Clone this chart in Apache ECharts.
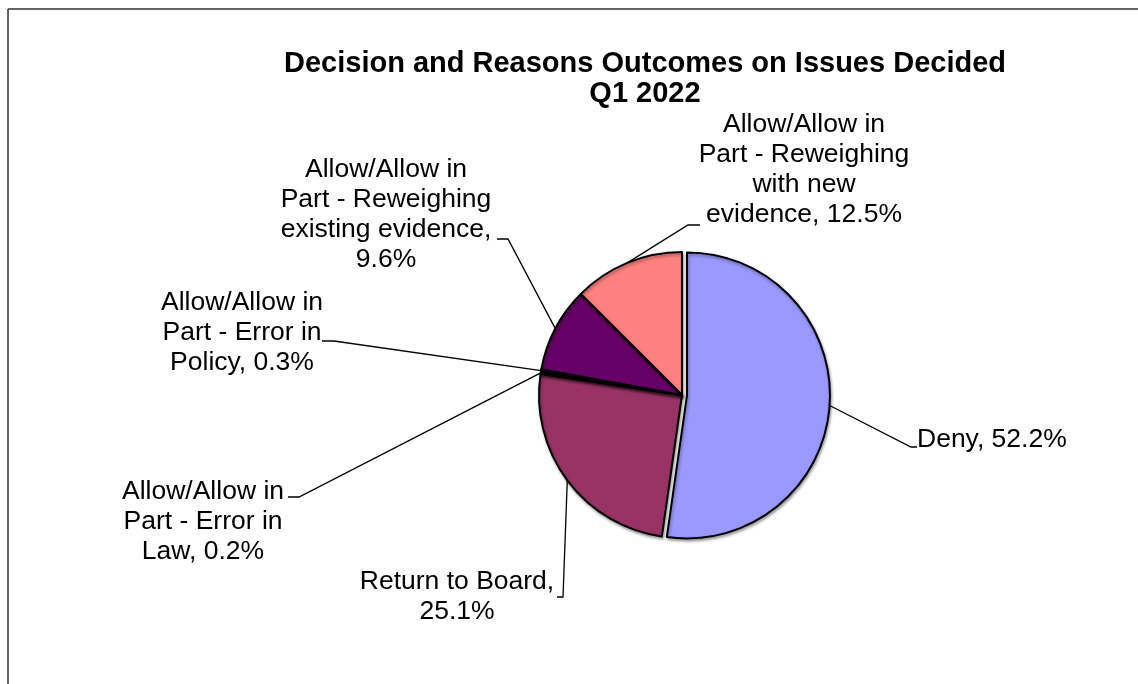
<!DOCTYPE html>
<html>
<head>
<meta charset="utf-8">
<script src="https://cdn.jsdelivr.net/npm/echarts@6/dist/echarts.min.js"></script>
<style>
  html, body { margin: 0; padding: 0; background: #fff; }
  #main { width: 1138px; height: 684px; }
</style>
</head>
<body>
<div id="main"></div>
<script>
var categories = [
    'Deny',
    'Return to Board',
    'Allow/Allow in Part - Error in Law',
    'Allow/Allow in Part - Error in Policy',
    'Allow/Allow in Part - Reweighing existing evidence',
    'Allow/Allow in Part - Reweighing with new evidence'
];
var values = [52.2, 25.1, 0.2, 0.3, 9.6, 12.5];
// wrapped names as shown in the labels
var wrappedNames = [
    'Deny',
    'Return to Board',
    'Allow/Allow in\nPart - Error in\nLaw',
    'Allow/Allow in\nPart - Error in\nPolicy',
    'Allow/Allow in\nPart - Reweighing\nexisting evidence',
    'Allow/Allow in\nPart - Reweighing\nwith new\nevidence'
];
var valueSep = [', ', ',\n', ', ', ', ', ',\n', ', '];
var colors = ['#9999FF', '#993366', '#000000', '#000000', '#660066', '#FF8080'];
var exploded = [true, false, false, false, false, false];

// label placement: text anchor x, top y, alignment, leader line end and bend
var labelPos = [
    {x: 917, y: 425, align: 'left',   end: [917, 447], bend: [911, 447]},
    {x: 457, y: 567, align: 'center', end: [557, 597], bend: [563, 597]},
    {x: 203, y: 477, align: 'center', end: [288, 497], bend: [299, 497]},
    {x: 242, y: 288, align: 'center', end: [322, 341], bend: [334, 341]},
    {x: 386, y: 155, align: 'center', end: [497, 239], bend: [508, 239]},
    {x: 804, y: 110, align: 'center', end: [700, 225], bend: [688, 225]}
];

var pieCenter = [682, 395];
var explodeCenter = [687, 395.4];

var myChart = echarts.init(document.getElementById('main'));

function buildData(showExploded) {
    return categories.map(function (c, i) {
        var visible = exploded[i] === showExploded;
        return {
            name: c,
            value: values[i],
            itemStyle: visible ? {color: colors[i]} :
                {color: 'transparent', borderWidth: 0, shadowBlur: 0, shadowColor: 'transparent'},
            label: {
                show: visible,
                formatter: wrappedNames[i] + valueSep[i] + values[i].toFixed(1) + '%'
            },
            labelLine: {show: visible}
        };
    });
}

function pieSeries(showExploded) {
    return {
        type: 'pie',
        center: showExploded ? explodeCenter : pieCenter,
        radius: 143,
        startAngle: 90,
        clockwise: true,
        avoidLabelOverlap: false,
        silent: true,
        emphasis: {disabled: true},
        itemStyle: {
            borderColor: '#000',
            borderWidth: 2,
            shadowColor: 'rgba(0,0,0,0.35)',
            shadowBlur: 3,
            shadowOffsetX: 1,
            shadowOffsetY: 2
        },
        label: {
            color: '#000',
            fontFamily: 'Liberation Sans, Arial, sans-serif',
            fontSize: 26.5,
            lineHeight: 30
        },
        labelLine: {
            lineStyle: {color: '#000', width: 1.3}
        },
        labelLayout: function (params) {
            var p = labelPos[params.dataIndex];
            var pts = params.labelLinePoints;
            if (!pts) return {};
            return {
                x: p.x,
                y: p.y,
                align: p.align,
                verticalAlign: 'top',
                labelLinePoints: [pts[0], p.bend, p.end]
            };
        },
        data: buildData(showExploded)
    };
}

var option = {
    animation: false,
    backgroundColor: '#fff',
    title: {
        text: 'Decision and Reasons Outcomes on Issues Decided\nQ1 2022',
        left: 640,
        top: 44,
        textAlign: 'center',
        textStyle: {
            fontFamily: 'Liberation Sans, Arial, sans-serif',
            fontSize: 29,
            fontWeight: 'bold',
            lineHeight: 30,
            color: '#000'
        }
    },
    graphic: [
        {type: 'line', shape: {x1: 8, y1: 9, x2: 1138, y2: 9}, style: {stroke: '#333', lineWidth: 1.5}},
        {type: 'line', shape: {x1: 8, y1: 9, x2: 8, y2: 684}, style: {stroke: '#333', lineWidth: 1.5}}
    ],
    series: [pieSeries(false), pieSeries(true)]
};

myChart.setOption(option);
</script>
</body>
</html>
